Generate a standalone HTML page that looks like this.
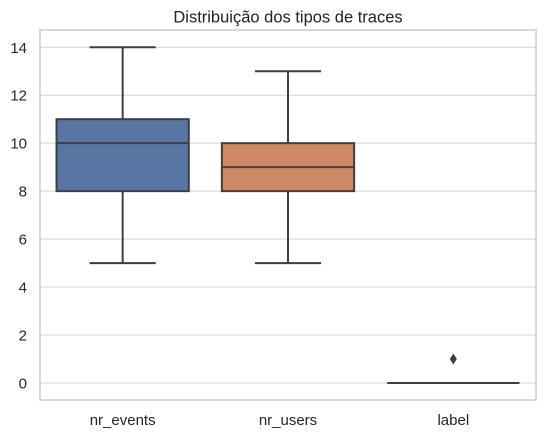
<!DOCTYPE html>
<html><head><meta charset="utf-8"><style>
body{margin:0;background:#fff;}
svg{display:block;font-family:"Liberation Sans",sans-serif;}
</style></head><body>
<svg id="chart" width="546" height="437"></svg>
<script>
const categories=["nr_events","nr_users","label"];
const mins=[5,5,0];
const q1s=[8,8,0];
const medians=[10,9,0];
const q3s=[11,10,0];
const maxs=[14,13,0];
const outliers=[[],[],[1]];
const colors=["#5875a4","#cc8963","#5f9e6e"];
const yTicks=[0,2,4,6,8,10,12,14];
const yMin=-0.71,yMax=14.72;
const L=40,R=536,T=30,B=400;
const NS="http://www.w3.org/2000/svg";
const svg=document.getElementById('chart');
function y(v){return B-(v-yMin)/(yMax-yMin)*(B-T);}
const bw=(R-L)/categories.length;
function xc(i){return L+bw*(i+0.5);}
function el(t,a,p){const e=document.createElementNS(NS,t);for(const k in a)e.setAttribute(k,a[k]);(p||svg).appendChild(e);return e;}
let t=el('text',{x:(L+R)/2,y:22.5,'text-anchor':'middle','font-size':16.5,fill:'#222'});
t.textContent="Distribuição dos tipos de traces";


yTicks.forEach(v=>{
 const g=el('line',{x1:L,x2:R,y1:y(v),y2:y(v),stroke:'#d3d3d3','stroke-width':1});
 
 
 const tx=el('text',{x:L-13,y:y(v)+5.5,'text-anchor':'end','font-size':15,fill:'#262626'});
 tx.textContent=v;
 
 
});
const frame=el('rect',{x:L,y:T,width:R-L,height:B-T,fill:'none',stroke:'#cccccc','stroke-width':1.5});


const lc='#3f3f3f';
categories.forEach((c,i)=>{
 const cx=xc(i),w=bw*0.8,hw=w/2,cw=w/4;
 const g=el('g',{});
 
 
 el('line',{x1:cx,x2:cx,y1:y(q3s[i]),y2:y(maxs[i]),stroke:lc,'stroke-width':2},g);
 el('line',{x1:cx,x2:cx,y1:y(q1s[i]),y2:y(mins[i]),stroke:lc,'stroke-width':2},g);
 el('line',{x1:cx-cw,x2:cx+cw,y1:y(maxs[i]),y2:y(maxs[i]),stroke:lc,'stroke-width':2},g);
 el('line',{x1:cx-cw,x2:cx+cw,y1:y(mins[i]),y2:y(mins[i]),stroke:lc,'stroke-width':2},g);
 el('rect',{x:cx-hw,y:y(q3s[i]),width:w,height:Math.max(0,y(q1s[i])-y(q3s[i])),fill:colors[i],stroke:lc,'stroke-width':2},g);
 el('line',{x1:cx-hw,x2:cx+hw,y1:y(medians[i]),y2:y(medians[i]),stroke:lc,'stroke-width':2},g);
 outliers[i].forEach(o=>{
  const d=el('path',{d:`M${cx},${y(o)-5.5} L${cx+3.5},${y(o)} L${cx},${y(o)+5.5} L${cx-3.5},${y(o)} Z`,fill:lc},g);
  
  
 });
 const tx=el('text',{x:cx,y:B+25,'text-anchor':'middle','font-size':15,fill:'#262626'});
 tx.textContent=c;
 
 
});
</script>
</body></html>
